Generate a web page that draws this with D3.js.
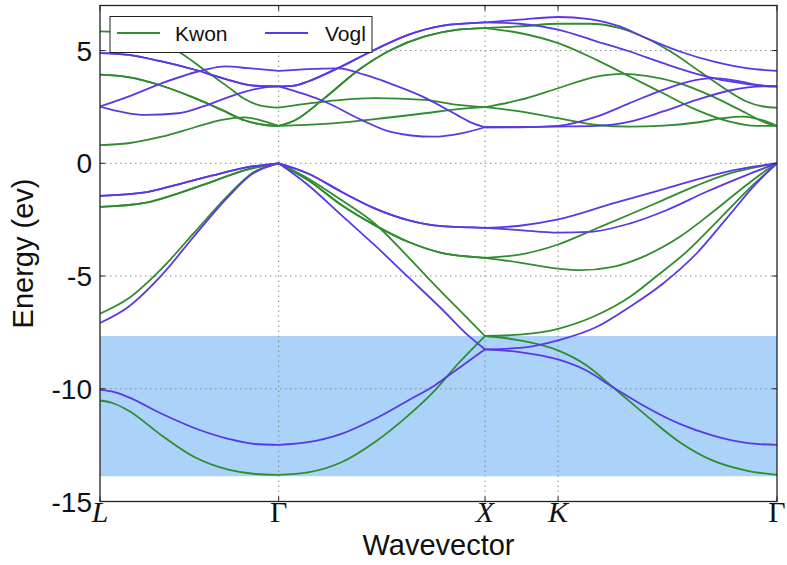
<!DOCTYPE html>
<html>
<head>
<meta charset="utf-8">
<script src="https://d3js.org/d3.v7.min.js"></script>
<style>
    body { margin: 0; background: #fff; }
    text { font-family: "Liberation Sans", Arial, Helvetica, sans-serif; fill: #111; }
</style>
</head>
<body>
<div id="chart"></div>
<script>
// high symmetry points along the path (path length units)
var symLabels = ["L", "Γ", "X", "K", "Γ"];
var symK = [0, 0.866, 1.866, 2.220, 3.281];
// bands have kinks only at these points (K lies on a smooth stretch)
var breakK = [0, 0.866, 1.866, 3.281];
var yTicks = [-15, -10, -5, 0, 5];
var gapBand = [-13.88, -7.66];
var seriesNames = ["Kwon", "Vogl"];

// Kwon bands, [k, E]
var kwonBands = [
    [[0,-1.93],[0.218,-1.75],[0.380,-1.33],[0.541,-0.82],[0.703,-0.30],[0.866,0],
     [1.008,-0.74],[1.170,-1.85],[1.331,-2.74],[1.493,-3.48],[1.655,-3.97],[1.866,-4.19],
     [2.034,-4.05],[2.220,-3.60],[2.406,-2.89],[2.567,-2.27],[2.729,-1.63],[2.891,-0.99],[3.052,-0.45],[3.213,-0.11],[3.281,0]],
    [[0,-1.93],[0.218,-1.75],[0.380,-1.33],[0.541,-0.82],[0.703,-0.30],[0.866,0],
     [1.008,-0.74],[1.170,-1.85],[1.331,-2.74],[1.493,-3.48],[1.655,-3.97],[1.866,-4.19],
     [2.034,-4.40],[2.220,-4.67],[2.325,-4.74],[2.486,-4.59],[2.648,-4.08],[2.810,-3.26],[2.971,-2.15],[3.133,-0.96],[3.230,-0.30],[3.281,0]],
    [[0,-6.67],[0.137,-6.00],[0.299,-4.67],[0.460,-3.04],[0.622,-1.41],[0.735,-0.45],[0.866,0],
     [1.008,-0.67],[1.170,-1.63],[1.331,-2.67],[1.493,-4.15],[1.582,-5.01],[1.735,-6.45],[1.866,-7.66],
     [2.034,-7.60],[2.220,-7.34],[2.406,-6.74],[2.567,-5.93],[2.697,-5.01],[2.842,-3.93],[3.004,-2.45],[3.165,-0.96],[3.281,0]],
    [[0,-10.52],[0.057,-10.62],[0.137,-10.96],[0.299,-12.07],[0.460,-13.04],[0.622,-13.59],[0.751,-13.78],[0.866,-13.82],
     [1.008,-13.71],[1.170,-13.26],[1.331,-12.37],[1.493,-11.19],[1.622,-10.08],[1.735,-8.89],[1.866,-7.66],
     [2.034,-7.85],[2.220,-8.30],[2.357,-8.96],[2.486,-9.93],[2.648,-11.19],[2.810,-12.37],[2.971,-13.19],[3.133,-13.63],[3.281,-13.82]],
    [[0,5.85],[0.137,5.78],[0.267,5.48],[0.380,4.96],[0.509,4.12],[0.622,3.38],[0.703,2.84],[0.784,2.55],[0.866,2.47],
     [1.088,2.74],[1.331,2.89],[1.574,2.81],[1.735,2.59],[1.866,2.49],
     [2.034,2.81],[2.220,3.33],[2.406,3.85],[2.535,3.97],[2.648,3.88],[2.810,3.55],[2.971,2.96],[3.133,2.22],[3.230,1.78],[3.281,1.66]],
    [[0,3.93],[0.137,3.82],[0.299,3.44],[0.460,2.89],[0.590,2.37],[0.703,1.90],[0.800,1.70],[0.866,1.66],
     [1.088,1.75],[1.331,1.96],[1.574,2.22],[1.735,2.40],[1.866,2.49],
     [2.034,2.30],[2.220,2.00],[2.406,1.70],[2.567,1.63],[2.729,1.67],[2.891,1.81],[3.020,2.00],[3.117,2.07],[3.213,1.90],[3.281,1.66]],
    [[0,0.81],[0.137,0.89],[0.299,1.18],[0.460,1.60],[0.590,1.93],[0.703,2.04],[0.800,1.85],[0.866,1.66],
     [0.943,1.90],[1.088,2.89],[1.250,4.12],[1.412,5.04],[1.574,5.63],[1.735,5.93],[1.866,6.00],
     [2.034,5.78],[2.220,5.33],[2.406,4.59],[2.567,3.85],[2.729,3.11],[2.891,2.37],[3.052,1.85],[3.181,1.66],[3.281,1.66]],
    [[0,3.93],[0.137,3.82],[0.299,3.44],[0.460,2.89],[0.590,2.37],[0.703,1.90],[0.800,1.70],[0.866,1.66],
     [0.943,1.90],[1.088,2.89],[1.250,4.12],[1.412,5.04],[1.574,5.63],[1.735,5.93],[1.866,6.00],
     [2.034,6.07],[2.220,6.19],[2.373,6.19],[2.519,6.00],[2.648,5.55],[2.777,4.89],[2.907,4.07],[3.036,3.26],[3.133,2.74],[3.213,2.52],[3.281,2.47]]
];

// Vogl bands
var voglBands = [
    [[0,-1.44],[0.218,-1.29],[0.380,-0.93],[0.541,-0.55],[0.703,-0.19],[0.866,0],
     [1.008,-0.45],[1.170,-1.26],[1.331,-2.00],[1.493,-2.52],[1.655,-2.79],[1.866,-2.86],
     [2.034,-2.77],[2.220,-2.49],[2.486,-1.78],[2.745,-1.11],[2.971,-0.52],[3.165,-0.15],[3.281,0]],
    [[0,-1.44],[0.218,-1.29],[0.380,-0.93],[0.541,-0.55],[0.703,-0.19],[0.866,0],
     [1.008,-0.45],[1.170,-1.26],[1.331,-2.00],[1.493,-2.52],[1.655,-2.79],[1.866,-2.86],
     [2.034,-2.96],[2.220,-3.07],[2.373,-3.04],[2.567,-2.67],[2.745,-2.08],[2.939,-1.26],[3.133,-0.52],[3.281,0]],
    [[0,-7.08],[0.137,-6.37],[0.299,-4.96],[0.460,-3.19],[0.622,-1.48],[0.735,-0.49],[0.866,0],
     [1.008,-0.96],[1.170,-2.30],[1.331,-3.63],[1.493,-5.04],[1.655,-6.45],[1.784,-7.63],[1.866,-8.25],
     [2.034,-8.19],[2.220,-7.85],[2.406,-7.26],[2.567,-6.37],[2.729,-5.33],[2.891,-4.00],[3.036,-2.45],[3.181,-0.89],[3.281,0]],
    [[0,-10.05],[0.057,-10.12],[0.137,-10.37],[0.299,-11.11],[0.460,-11.75],[0.622,-12.22],[0.751,-12.45],[0.866,-12.49],
     [1.008,-12.37],[1.170,-12.00],[1.331,-11.34],[1.493,-10.52],[1.622,-9.85],[1.735,-9.11],[1.866,-8.25],
     [2.034,-8.37],[2.220,-8.70],[2.357,-9.19],[2.486,-9.93],[2.648,-10.82],[2.810,-11.56],[2.971,-12.08],[3.133,-12.40],[3.281,-12.49]],
    [[0,4.89],[0.137,4.81],[0.299,4.52],[0.460,4.15],[0.622,3.70],[0.751,3.44],[0.866,3.41],
     [0.943,3.45],[1.008,3.63],[1.153,4.22],[1.331,5.04],[1.493,5.70],[1.655,6.10],[1.866,6.25],
     [2.034,6.37],[2.220,6.49],[2.373,6.40],[2.519,6.07],[2.648,5.55],[2.810,4.96],[2.971,4.52],[3.133,4.22],[3.281,4.10]],
    [[0,4.89],[0.137,4.81],[0.299,4.52],[0.460,4.15],[0.622,3.70],[0.751,3.44],[0.866,3.41],
     [0.943,3.45],[1.008,3.63],[1.153,4.22],[1.331,5.04],[1.493,5.70],[1.655,6.10],[1.866,6.25],
     [2.034,6.19],[2.220,5.93],[2.406,5.41],[2.567,4.96],[2.729,4.44],[2.891,3.97],[3.052,3.63],[3.213,3.44],[3.281,3.41]],
    [[0,2.52],[0.218,2.15],[0.380,2.22],[0.509,2.55],[0.654,3.04],[0.784,3.35],[0.866,3.41],
     [1.088,2.74],[1.266,1.93],[1.404,1.41],[1.614,1.18],[1.751,1.33],[1.866,1.60],
     [2.034,1.60],[2.220,1.66],[2.406,2.07],[2.567,2.67],[2.729,3.26],[2.891,3.70],[2.971,3.78],[3.101,3.63],[3.213,3.44],[3.281,3.41]],
    [[0,2.52],[0.137,2.96],[0.299,3.55],[0.509,4.15],[0.606,4.30],[0.719,4.22],[0.866,4.10],
     [1.008,4.18],[1.153,4.21],[1.282,3.93],[1.404,3.55],[1.564,2.96],[1.729,2.15],[1.806,1.78],[1.866,1.60],
     [2.220,1.63],[2.406,1.66],[2.567,1.85],[2.729,2.30],[2.891,2.81],[3.052,3.23],[3.213,3.41],[3.281,3.41]]
];

var kwonColor = "#2f8c2f";
var voglColor = "#5a38e6";

var margin = {top: 5.5, right: 10, bottom: 63.5, left: 100};
var width = 677;
var height = 496;

var svg = d3.select('#chart')
    .append('svg')
    .attr('width', width + margin.left + margin.right)
    .attr('height', height + margin.top + margin.bottom)
    .append('g')
    .attr('transform', 'translate(' + margin.left + ',' + margin.top + ')');

var x = d3.scaleLinear().domain([symK[0], symK[symK.length - 1]]).range([0, width]);
var y = d3.scaleLinear().domain([-15, 7]).range([height, 0]);

svg.append('clipPath').attr('id', 'plot-clip')
    .append('rect').attr('width', width).attr('height', height);

// shaded energy window
svg.append('rect')
    .attr('x', 0)
    .attr('width', width)
    .attr('y', y(gapBand[1]))
    .attr('height', y(gapBand[0]) - y(gapBand[1]))
    .attr('fill', '#abd2f8');

// dotted grid
svg.append('g').selectAll('line')
    .data(yTicks.filter(function (t) { return t > -15; }))
    .enter().append('line')
    .attr('x1', 0).attr('x2', width)
    .attr('y1', function (d) { return y(d); })
    .attr('y2', function (d) { return y(d); })
    .attr('stroke', '#8a8a8a').attr('stroke-width', 1)
    .attr('stroke-dasharray', '1.5,3.5');

svg.append('g').selectAll('line')
    .data(symK.slice(1, symK.length - 1))
    .enter().append('line')
    .attr('x1', function (d) { return x(d); })
    .attr('x2', function (d) { return x(d); })
    .attr('y1', 0).attr('y2', height)
    .attr('stroke', '#8a8a8a').attr('stroke-width', 1)
    .attr('stroke-dasharray', '1.5,3.5');

var line = d3.line()
    .x(function (d) { return x(d[0]); })
    .y(function (d) { return y(d[1]); })
    .curve(d3.curveMonotoneX);

// each band is drawn piece by piece between break points, so kinks stay sharp
function drawBands(bands, color) {
    var g = svg.append('g').attr('clip-path', 'url(#plot-clip)');
    bands.forEach(function (band) {
        for (var i = 0; i < breakK.length - 1; i++) {
            var seg = band.filter(function (p) {
                return p[0] >= breakK[i] - 1e-6 && p[0] <= breakK[i + 1] + 1e-6;
            });
            g.append('path')
                .datum(seg)
                .attr('d', line)
                .attr('fill', 'none')
                .attr('stroke', color)
                .attr('stroke-width', 1.8);
        }
    });
}

drawBands(kwonBands, kwonColor);
drawBands(voglBands, voglColor);

// frame and inward ticks
svg.append('rect')
    .attr('width', width).attr('height', height)
    .attr('fill', 'none').attr('stroke', '#222').attr('stroke-width', 1.3);

var ticks = svg.append('g').attr('stroke', '#222').attr('stroke-width', 1);
yTicks.forEach(function (t) {
    ticks.append('line').attr('x1', 0).attr('x2', 5).attr('y1', y(t)).attr('y2', y(t));
    ticks.append('line').attr('x1', width - 5).attr('x2', width).attr('y1', y(t)).attr('y2', y(t));
});
symK.forEach(function (k) {
    ticks.append('line').attr('x1', x(k)).attr('x2', x(k)).attr('y1', height).attr('y2', height - 5);
    ticks.append('line').attr('x1', x(k)).attr('x2', x(k)).attr('y1', 0).attr('y2', 5);
});

// tick labels
svg.append('g').selectAll('text')
    .data(yTicks)
    .enter().append('text')
    .attr('x', -8)
    .attr('y', function (d) { return y(d); })
    .attr('dy', '0.36em')
    .attr('text-anchor', 'end')
    .attr('font-size', 28)
    .text(function (d) { return d; });

svg.append('g').selectAll('text')
    .data(symLabels)
    .enter().append('text')
    .attr('x', function (d, i) { return x(symK[i]); })
    .attr('y', height + 20.5)
    .attr('text-anchor', 'middle')
    .attr('font-size', 30)
    .style('font-family', '"Liberation Serif", "DejaVu Serif", serif')
    .style('font-style', function (d) { return d === "Γ" ? 'normal' : 'italic'; })
    .text(function (d) { return d; });

// axis titles
svg.append('text')
    .attr('x', width / 2)
    .attr('y', height + 53.5)
    .attr('text-anchor', 'middle')
    .attr('font-size', 29)
    .text('Wavevector');

svg.append('text')
    .attr('transform', 'translate(-67,' + (height / 2) + ') rotate(-90)')
    .attr('text-anchor', 'middle')
    .attr('font-size', 29)
    .text('Energy (ev)');

// legend
var legend = svg.append('g').attr('transform', 'translate(10,11)');
legend.append('rect')
    .attr('width', 262).attr('height', 36)
    .attr('fill', '#fff').attr('stroke', '#222').attr('stroke-width', 1);
[kwonColor, voglColor].forEach(function (c, i) {
    legend.append('line')
        .attr('x1', 7 + i * 148).attr('x2', 50 + i * 148)
        .attr('y1', 16.5).attr('y2', 16.5)
        .attr('stroke', c).attr('stroke-width', 1.8);
    legend.append('text')
        .attr('x', 65 + i * 150)
        .attr('y', 24.5)
        .attr('font-size', 21)
        .text(seriesNames[i]);
});
</script>
</body>
</html>
